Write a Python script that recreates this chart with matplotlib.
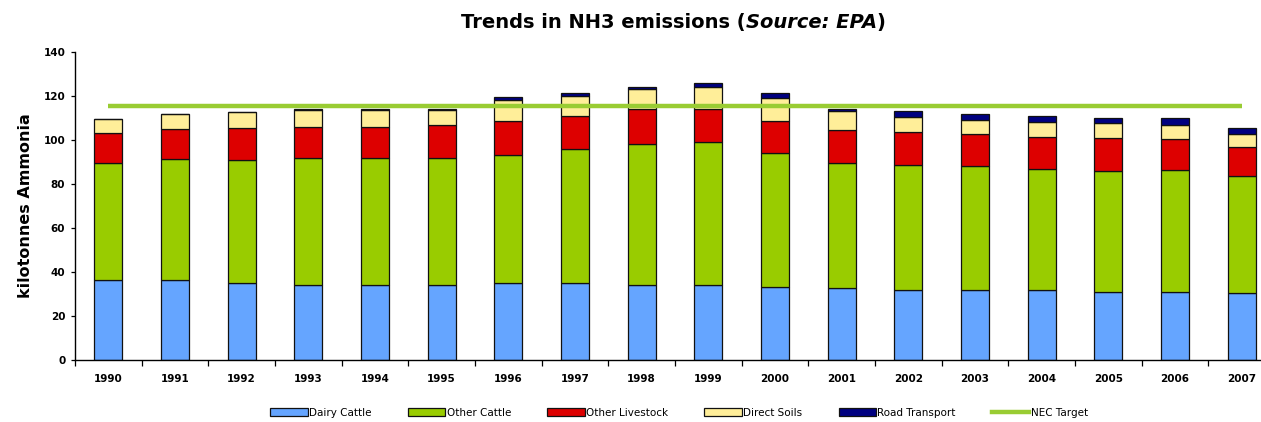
import numpy as np
import matplotlib
matplotlib.use('Agg')
import matplotlib.pyplot as plt
from matplotlib.lines import Line2D
from matplotlib.patches import Patch

years = ['1990', '1991', '1992', '1993', '1994', '1995', '1996', '1997', '1998',
         '1999', '2000', '2001', '2002', '2003', '2004', '2005', '2006', '2007']

# kilotonnes NH3 by source
dairy_cattle = [36.5, 36.6, 35.0, 34.3, 34.3, 34.3, 35.0, 35.0, 34.4,
                34.3, 33.4, 32.7, 31.9, 31.9, 31.9, 31.0, 31.0, 30.4]
other_cattle = [52.9, 54.6, 55.9, 57.3, 57.3, 57.6, 58.2, 60.7, 63.6,
                64.6, 60.8, 56.7, 56.7, 56.4, 54.9, 55.0, 55.3, 53.2]
other_livestock = [13.6, 13.6, 14.3, 14.4, 14.4, 14.9, 15.4, 15.1, 15.9,
                   15.0, 14.5, 15.1, 15.1, 14.4, 14.7, 14.7, 14.1, 13.3]
direct_soils = [6.3, 6.9, 7.5, 7.7, 7.7, 6.9, 9.5, 9.1, 9.0,
                9.9, 10.4, 8.6, 6.8, 6.3, 6.8, 6.8, 6.4, 5.8]
road_transport = [0.0, 0.0, 0.0, 0.3, 0.3, 0.3, 1.2, 1.2, 1.2,
                  2.1, 2.3, 1.1, 2.8, 2.7, 2.5, 2.6, 3.3, 2.7]
nec_target = 115.5

series = [
    ('Dairy Cattle', dairy_cattle, '#65A5FF'),
    ('Other Cattle', other_cattle, '#99CC00'),
    ('Other Livestock', other_livestock, '#DD0000'),
    ('Direct Soils', direct_soils, '#FFEE99'),
    ('Road Transport', road_transport, '#000080'),
]
nec_color = '#99CC33'

fig = plt.figure(figsize=(12.61, 4.22), dpi=100)
ax = fig.add_axes([75 / 1261, 61.6 / 422, 1200 / 1261, 308.7 / 422])

x = np.arange(len(years))
bottom = np.zeros(len(years))
for name, vals, col in series:
    vals = np.array(vals)
    ax.bar(x, vals, 0.42, bottom=bottom, color=col, edgecolor='#111111',
           linewidth=0.9, zorder=2)
    bottom += vals

# NEC target from first to last year
ax.plot([x[0], x[-1]], [nec_target, nec_target], color=nec_color, lw=3.2,
        solid_capstyle='butt', zorder=3)

ax.set_xlim(-0.5, len(years) - 0.5)
ax.set_ylim(0, 140)
ax.set_yticks(np.arange(0, 141, 20))
ax.set_xticks(x)
ax.set_xticklabels(years)
ax.set_xticks(np.arange(-0.5, len(years), 1), minor=True)
ax.tick_params(axis='x', which='major', length=0, pad=10, labelsize=7.5)
ax.tick_params(axis='x', which='minor', length=4, width=0.9, direction='out')
ax.tick_params(axis='y', length=3, width=0.9, pad=4, labelsize=7.5)
for lbl in ax.get_xticklabels() + ax.get_yticklabels():
    lbl.set_fontweight('bold')

for s in ['top', 'right']:
    ax.spines[s].set_visible(False)
for s in ['left', 'bottom']:
    ax.spines[s].set_linewidth(1.0)

ax.set_ylabel('kilotonnes Ammonia', fontsize=11.5, fontweight='bold')
ax.yaxis.set_label_coords(-0.035, 0.5)

# title with italic source part
t1 = fig.text(461 / 1261, 1 - 28 / 422, 'Trends in NH3 emissions (',
              fontsize=14, fontweight='bold', ha='left', va='baseline')
t2 = ax.annotate('Source: EPA', xy=(1, 0), xycoords=t1, fontsize=14,
                 fontweight='bold', fontstyle='italic', va='bottom')
ax.annotate(')', xy=(1, 0), xycoords=t2, fontsize=14, fontweight='bold',
            va='bottom')

handles = [Patch(facecolor=col, edgecolor='#111111', linewidth=0.9)
           for _, _, col in series]
handles.append(Line2D([0], [0], color=nec_color, lw=3.2))
labels = [name for name, _, _ in series] + ['NEC Target']
fig.legend(handles, labels, loc='center', bbox_to_anchor=(0.5385, 0.0225),
           ncol=6, frameon=False, fontsize=7.5, handlelength=3.6,
           handleheight=0.77, handletextpad=0.1, columnspacing=3.5,
           borderpad=0)

fig.savefig('out.png', dpi=100)
